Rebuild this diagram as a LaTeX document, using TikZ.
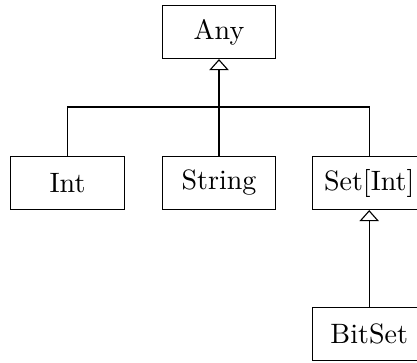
\documentclass[tikz,border=0pt]{standalone}
\usetikzlibrary{arrows.meta}
\begin{document}
\begin{tikzpicture}[x=0.357pt,y=0.357pt,
  cls/.style={draw, line width=0.4pt, minimum width=40.4pt, minimum height=18.9pt, inner sep=0pt, font=\fontsize{10}{12}\selectfont},
  inh/.style={line width=0.4pt, -{Triangle[open,length=4pt,width=7pt]}}]
\useasboundingbox (0,0) rectangle (417,362);
\node[cls] (any) at (219,330) {Any};
\node[cls] (int) at (67.5,179) {Int};
\node[cls] (str) at (219,179) {String};
\node[cls] (set) at (369.2,179) {Set[Int]};
\node[cls] (bit) at (369.2,28) {BitSet};
\coordinate (hub) at (219,255);
\draw[line width=0.4pt] (int.north) |- (hub) -| (set.north);
\draw[inh] (str.north) -- (any.south);
\draw[inh] (bit.north) -- (set.south);
\end{tikzpicture}
\end{document}
